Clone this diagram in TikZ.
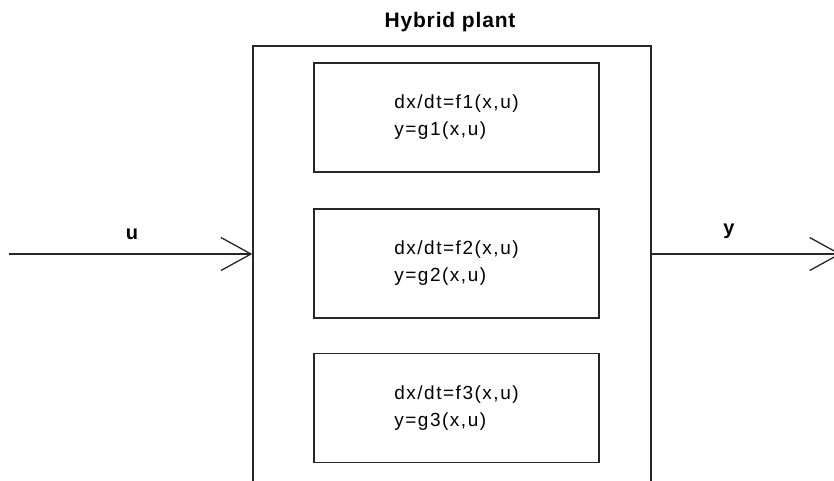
\documentclass[tikz,border=0pt]{standalone}
\usepackage{fontspec}
\setmainfont{Liberation Sans}
\usetikzlibrary{arrows.meta}
\begin{document}
\begin{tikzpicture}[x=1pt,y=-1pt,
  frame/.style={draw=black!85, line width=1.4pt},
  plantbox/.style={frame, minimum width=398pt, minimum height=480pt, inner sep=0pt},
  modebox/.style={frame, minimum width=285pt, minimum height=109pt, inner sep=0pt,
    align=left, font=\fontsize{19}{27}\selectfont\addfontfeature{LetterSpace=8}},
  title/.style={font=\bfseries\fontsize{21}{24}\selectfont\addfontfeature{LetterSpace=4}},
  signal/.style={font=\bfseries\fontsize{20}{24}\selectfont},
  flow/.style={draw=black!85, line width=1.3pt,
    -{Straight Barb[length=30pt, width=33pt, line width=1.3pt]}}
]
\useasboundingbox (0,0) rectangle (834,480);
\clip (0,0) rectangle (834,480);

% enclosing plant block (runs past the lower edge)
\node[plantbox] (plant) at (452,286) {};
\node[title] (ptitle) at (450,22) {Hybrid plant};

% the three continuous modes
\node[modebox] (m1) at (456.5,117.5) {dx/dt=f1(x,u)\\y=g1(x,u)};
\node[modebox] (m2) at (456.5,263.5) {dx/dt=f2(x,u)\\y=g2(x,u)};
\node[modebox] (m3) at (456.5,408) {dx/dt=f3(x,u)\\y=g3(x,u)};

% input and output signals
\coordinate (uin) at (9,254);
\coordinate (yout) at (841,254);
\draw[flow] (uin) -- (uin -| plant.west);
\draw[flow] (yout -| plant.east) -- (yout);
\node[signal] (ulab) at (132,234) {u};
\node[signal] (ylab) at (729,231) {y};
\end{tikzpicture}
\end{document}
